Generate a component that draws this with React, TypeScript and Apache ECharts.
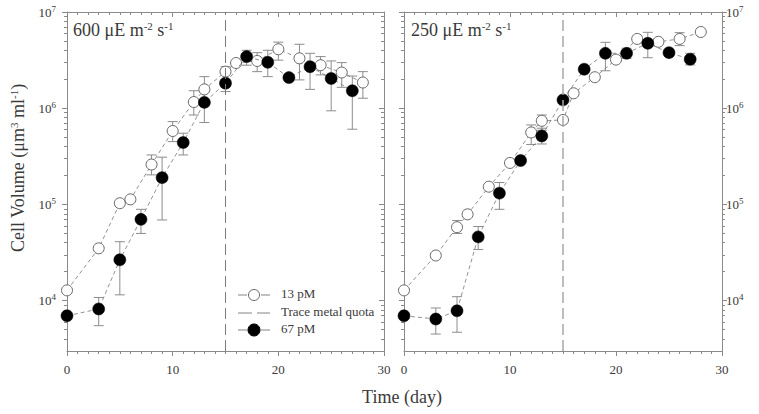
import React, { useEffect, useRef } from "react";
import * as echarts from "echarts";

// ---- data ----
const days13L = [0, 3, 5, 6, 8, 10, 12, 13, 15, 16, 18, 20, 22, 24, 26, 28];
const vol13L = [12800, 35000, 103000, 113000, 260000, 580000, 1160000, 1570000, 2400000, 2950000, 3100000, 4100000, 3300000, 2800000, 2350000, 1850000];
const err13L = [
  [8, 203000, 327000], [10, 450000, 726000], [12, 850000, 1520000], [13, 1220000, 2130000],
  [15, 2000000, 2700000], [18, 2400000, 3780000], [20, 3160000, 4860000], [22, 1970000, 4620000],
  [24, 2220000, 3440000], [26, 1650000, 2980000], [28, 1270000, 2400000],
];
const days67L = [0, 3, 5, 7, 9, 11, 13, 15, 17, 19, 21, 23, 25, 27];
const vol67L = [6970, 8200, 26600, 70000, 190000, 440000, 1150000, 1820000, 3440000, 3000000, 2080000, 2700000, 2040000, 1520000];
const err67L = [
  [3, 5500, 10800], [5, 11500, 41000], [7, 50000, 89000], [9, 69000, 310000], [11, 327000, 550000],
  [13, 710000, 1550000], [15, 1490000, 2400000], [17, 2800000, 4000000], [19, 2130000, 4000000],
  [23, 1570000, 3720000], [25, 940000, 3100000], [27, 605000, 2160000],
];
const days13R = [0, 3, 5, 6, 8, 10, 12, 13, 15, 16, 18, 20, 22, 24, 26, 28];
const vol13R = [12800, 29500, 58000, 79000, 153000, 270000, 560000, 740000, 755000, 1430000, 2100000, 3200000, 5250000, 4900000, 5250000, 6200000];
const err13R = [[5, 50000, 68000], [12, 420000, 670000], [13, 590000, 850000], [26, 4470000, 6100000]];
const days67R = [0, 3, 5, 7, 9, 11, 13, 15, 17, 19, 21, 23, 25, 27];
const vol67R = [6970, 6450, 7850, 46000, 131000, 286000, 515000, 1220000, 2540000, 3720000, 3720000, 4730000, 3780000, 3230000];
const err67R = [
  [3, 4500, 8400], [5, 4700, 11000], [7, 34000, 59000], [9, 89000, 169000], [13, 425000, 620000],
  [19, 2450000, 4840000], [21, 3300000, 4200000], [23, 3350000, 6150000], [27, 2820000, 3720000],
];
const quotaDay = 15;
const majorTicks = [1e4, 1e5, 1e6, 1e7];
const minorTicks = [4000, 5000, 6000, 7000, 8000, 9000,
  2e4, 3e4, 4e4, 5e4, 6e4, 7e4, 8e4, 9e4,
  2e5, 3e5, 4e5, 5e5, 6e5, 7e5, 8e5, 9e5,
  2e6, 3e6, 4e6, 5e6, 6e6, 7e6, 8e6, 9e6];
const panelTitles = ["600", "250"];

const FONT = "Liberation Serif";
const AX = "#8a8a8a";
const TXT = "#3a3a3a";

const zip = (xs: number[], ys: number[]) => xs.map((x, i) => [x, ys[i]]);

export default function App() {
  const ref = useRef<HTMLDivElement>(null);
  useEffect(() => {
    document.body.style.margin = "0";
    const chart = echarts.init(ref.current!, undefined, { renderer: "svg" });

    const grids = [
      { left: 67, right: 375, top: 12, bottom: 63 },
      { left: 404, right: 37, top: 12, bottom: 63 },
    ].map((g) => ({ ...g, outerBoundsMode: "none" }));

    const xAxes: any[] = [];
    const yAxes: any[] = [];
    [0, 1].forEach((gi) => {
      const baseX = {
        type: "value", gridIndex: gi, min: 0, max: 30, interval: 10,
        axisLine: { show: true, lineStyle: { color: AX, width: 1 } },
        splitLine: { show: false },
        minorTick: { show: true, splitNumber: 10, length: 3, lineStyle: { color: AX } },
        minorSplitLine: { show: false },
      };
      xAxes.push({
        ...baseX, position: "bottom",
        axisTick: { show: true, length: 5, lineStyle: { color: AX } },
        axisLabel: { show: true, fontFamily: FONT, fontSize: 13, color: TXT, margin: 12 },
      });
      xAxes.push({
        ...baseX, position: "top",
        axisTick: { show: true, inside: true, length: 5, lineStyle: { color: AX } },
        minorTick: { show: true, splitNumber: 10, length: 3, lineStyle: { color: AX } },
        axisLabel: { show: false },
      });
      const labelSide = gi === 0 ? "left" : "right";
      (["left", "right"] as const).forEach((side) => {
        const inside = gi === 0 ? side === "right" : false;
        const base = {
          type: "log", logBase: 10, gridIndex: gi, min: 3000, max: 1e7, position: side,
          splitLine: { show: false },
        };
        yAxes.push({
          ...base,
          axisLine: { show: true, lineStyle: { color: AX, width: 1 } },
          axisTick: { show: true, inside, length: 5, customValues: majorTicks, lineStyle: { color: AX } },
          axisLabel: {
            show: side === labelSide,
            customValues: majorTicks,
            margin: side === "left" ? 11 : 4,
            formatter: (v: number) => {
              const e = Math.round(Math.log10(v));
              if (Math.abs(Math.pow(10, e) - v) > 1e-6 * v) return "";
              return `{b|10}{s|${e}}`;
            },
            rich: {
              b: { fontFamily: FONT, fontSize: 13, color: TXT },
              s: { fontFamily: FONT, fontSize: 9, color: TXT, verticalAlign: "bottom", padding: [0, 0, 7, 0] },
            },
          },
        });
        yAxes.push({
          ...base,
          axisLine: { show: false },
          axisTick: { show: true, inside, length: 3, customValues: minorTicks, lineStyle: { color: AX } },
          axisLabel: { show: false },
        });
      });
    });

    const errSeries = (data: number[][], xi: number, yi: number) => ({
      type: "custom",
      xAxisIndex: xi,
      yAxisIndex: yi,
      z: 1,
      data,
      encode: { x: 0, y: [1, 2] },
      renderItem: (params: any, api: any) => {
        const x = api.value(0);
        const lo = api.coord([x, api.value(1)]);
        const hi = api.coord([x, api.value(2)]);
        const w = 5;
        const st = { stroke: "#8c8c8c", lineWidth: 1 };
        return {
          type: "group",
          children: [
            { type: "line", shape: { x1: lo[0], y1: lo[1], x2: hi[0], y2: hi[1] }, style: st },
            { type: "line", shape: { x1: lo[0] - w, y1: lo[1], x2: lo[0] + w, y2: lo[1] }, style: st },
            { type: "line", shape: { x1: hi[0] - w, y1: hi[1], x2: hi[0] + w, y2: hi[1] }, style: st },
          ],
        };
      },
    });

    const lineSeries = (name: string, data: number[][], filled: boolean, xi: number, yi: number, mark: boolean, markColor: string, markWidth: number) => ({
      name,
      type: "line",
      xAxisIndex: xi,
      yAxisIndex: yi,
      data,
      z: filled ? 4 : 3,
      symbol: "circle",
      symbolSize: filled ? 12 : 11,
      itemStyle: filled
        ? { color: "#000", borderColor: "#000", borderWidth: 0.5 }
        : { color: "#fff", borderColor: "#666", borderWidth: 1 },
      lineStyle: { color: "#777", width: 0.8, type: [4, 3] },
      markLine: mark
        ? {
            silent: true,
            symbol: "none",
            label: { show: false },
            lineStyle: { color: markColor, width: markWidth, type: [11, 5] },
            data: [{ xAxis: quotaDay }],
          }
        : undefined,
    });

    const series = [
      errSeries(err13L, 0, 0),
      errSeries(err67L, 0, 0),
      lineSeries("13 pM", zip(days13L, vol13L), false, 0, 0, true, "#7a7a7a", 1),
      lineSeries("67 pM", zip(days67L, vol67L), true, 0, 0, false, "", 0),
      errSeries(err13R, 2, 6),
      errSeries(err67R, 2, 6),
      lineSeries("13 pM", zip(days13R, vol13R), false, 2, 6, true, "#a8a8a8", 1.5),
      lineSeries("67 pM", zip(days67R, vol67R), true, 2, 6, false, "", 0),
    ];

    const titleRich = {
      t: { fontFamily: FONT, fontSize: 18, fontWeight: "normal", fill: TXT },
      s: { fontFamily: FONT, fontSize: 11, fontWeight: "normal", fill: TXT, verticalAlign: "bottom", padding: [0, 0, 9, 0] },
    };
    const legendText = (y: number, text: string) => ({
      type: "text", left: 281, top: y - 8,
      style: { text, fontFamily: FONT, fontSize: 13, fill: TXT },
    });
    const seg = (x1: number, x2: number, y: number) => ({
      type: "line", shape: { x1, y1: y, x2, y2: y }, style: { stroke: "#777", lineWidth: 0.9 },
    });

    const graphic = [
      ...panelTitles.map((p, i) => ({
        type: "text",
        left: i === 0 ? 73 : 411,
        top: 20,
        style: {
          text: `{t|${p} μE m}{s|-2}{t| s}{s|-1}`,
          fill: TXT,
          rich: titleRich,
        },
      })),
      {
        type: "text",
        x: 18,
        y: 168,
        rotation: Math.PI / 2,
        style: {
          text: "{t|Cell Volume (μm}{s|3}{t| ml}{s|-1}{t|)}",
          align: "center",
          verticalAlign: "middle",
          fill: TXT,
          rich: {
            t: { fontFamily: FONT, fontSize: 18, fontWeight: "normal", fill: TXT },
            s: { fontFamily: FONT, fontSize: 11, fontWeight: "normal", fill: TXT, verticalAlign: "bottom", padding: [0, 0, 9, 0] },
          },
        },
      },
      {
        type: "text",
        x: 402,
        y: 397,
        style: {
          text: "Time (day)", fontFamily: FONT, fontSize: 18, fill: TXT,
          align: "center", verticalAlign: "middle",
        },
      },
      // legend
      seg(238, 247, 295), seg(261, 270, 295),
      { type: "circle", shape: { cx: 254, cy: 295, r: 5.5 }, style: { fill: "#fff", stroke: "#666", lineWidth: 1 } },
      legendText(295, "13 pM"),
      seg(238, 252, 313), seg(257, 270, 313),
      legendText(313, "Trace metal quota"),
      seg(238, 247, 330), seg(261, 270, 330),
      { type: "circle", shape: { cx: 254, cy: 330, r: 6 }, style: { fill: "#000", stroke: "#000" } },
      legendText(330, "67 pM"),
    ];

    chart.setOption({
      animation: false,
      backgroundColor: "#fff",
      grid: grids,
      xAxis: xAxes,
      yAxis: yAxes,
      series,
      graphic,
    } as any);
    return () => chart.dispose();
  }, []);
  return <div ref={ref} style={{ width: 759, height: 414 }} />;
}
